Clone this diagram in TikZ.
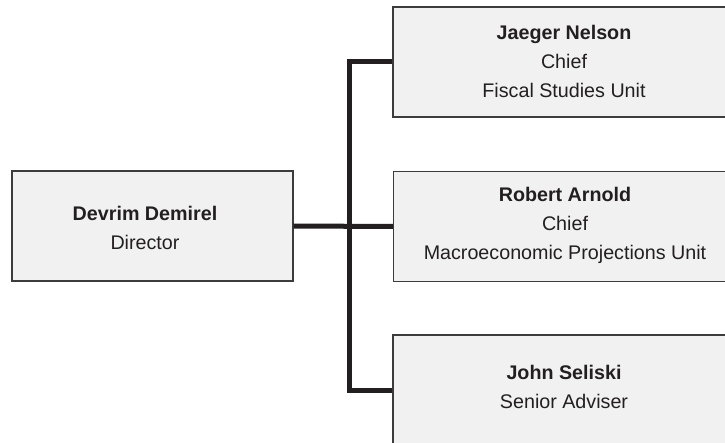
\documentclass[tikz,border=0pt]{standalone}
\usepackage{fontspec}
\setmainfont{Liberation Sans}
\definecolor{boxfill}{RGB}{240,241,240}
\definecolor{boxline}{RGB}{60,60,60}
\definecolor{ink}{RGB}{35,31,32}
\begin{document}
\begin{tikzpicture}[x=1pt,y=-1pt,
  orgbox/.style={draw=boxline,fill=boxfill,line width=1.2pt,rectangle,inner sep=0pt,minimum height=110pt},
  txtline/.style={anchor=base,inner sep=0pt,text=ink,font=\fontsize{19.7}{24}\selectfont},
  nameline/.style={txtline,font=\fontsize{19.7}{24}\selectfont\bfseries},
  conn/.style={draw=ink,line width=5pt,line join=miter,line cap=butt}]
\useasboundingbox (0,0) rectangle (725,443);
\fill[white] (0,0) rectangle (725,443);
\clip (0,0) rectangle (725,443);
% boxes
\node[orgbox,minimum width=281pt] (L) at (152.5,226) {};
\node[orgbox,minimum width=342pt] (T) at (564,62) {};
\node[orgbox,minimum width=342pt] (M) at (564.5,226.5) {};
\node[orgbox,minimum width=342pt] (B) at (564,390) {};
% connectors
\coordinate (jt) at (349,62);
\coordinate (jb) at (349,390);
\draw[conn] (T.west) -- (jt) -- (jb) -- (B.west);
\draw[conn] (L.east) -- (M.west);
% texts
\node[nameline] (l1) at (145,221) {Devrim Demirel};
\node[txtline] (l2) at (145,250) {Director};
\node[nameline] (t1) at (564,40) {Jaeger Nelson};
\node[txtline] (t2) at (564,69) {Chief};
\node[txtline] (t3) at (564,98) {Fiscal Studies Unit};
\node[nameline] (m1) at (565,202) {Robert Arnold};
\node[txtline] (m2) at (565,231) {Chief};
\node[txtline] (m3) at (565,260) {Macroeconomic Projections Unit};
\node[nameline] (b1) at (564,379) {John Seliski};
\node[txtline] (b2) at (564,408) {Senior Adviser};
\end{tikzpicture}
\end{document}
